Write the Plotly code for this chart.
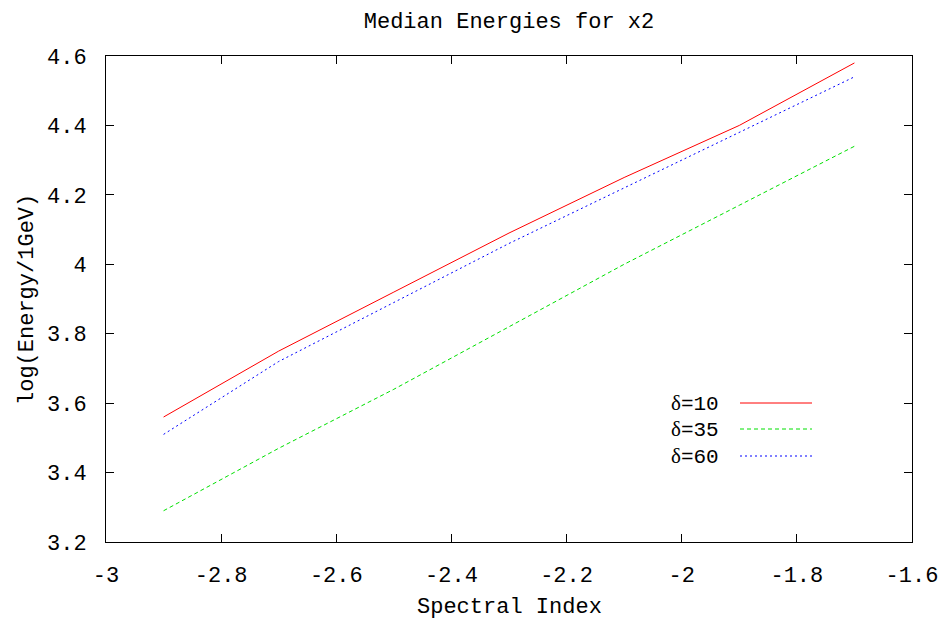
import plotly.graph_objects as go

spectral_index = [-2.9, -2.7, -2.5, -2.3, -2.1, -1.9, -1.7]
delta10 = [3.56, 3.75, 3.92, 4.09, 4.25, 4.40, 4.58]
delta35 = [3.29, 3.47, 3.64, 3.82, 4.00, 4.17, 4.34]
delta60 = [3.51, 3.72, 3.89, 4.06, 4.22, 4.38, 4.54]

series_names = ["δ=10", "δ=35", "δ=60"]
series_values = [delta10, delta35, delta60]
colors = ["#ff0000", "#00e000", "#0000ff"]
dashes = ["solid", "4px,3px", "2px,3px"]

x_ticks = [-3, -2.8, -2.6, -2.4, -2.2, -2, -1.8, -1.6]
y_ticks = [3.2, 3.4, 3.6, 3.8, 4, 4.2, 4.4, 4.6]

MONO = "Liberation Mono, Courier New, Courier, monospace"

fig = go.Figure()
for name, vals, c, d in zip(series_names, series_values, colors, dashes):
    fig.add_trace(go.Scatter(x=spectral_index, y=vals, mode="lines", name=name,
                             line=dict(color=c, width=1, dash=d), showlegend=False))

W, H = 948, 629
L, R, T, B = 106, 36, 56, 87
pw, ph = W - L - R, H - T - B

def px(xp):
    return (xp - L) / pw

def py(yp):
    return 1 - (yp - T) / ph

# legend (gnuplot-style: text then line sample)
rows_y = [403, 429, 456]
for name, c, d, yy in zip(series_names, colors, dashes, rows_y):
    label = name.replace("δ", "<span style='font-family:Liberation Serif, serif'>δ</span>")
    fig.add_annotation(x=px(721), y=py(yy), xref="paper", yref="paper", text=label,
                       showarrow=False, xanchor="right", yanchor="middle",
                       font=dict(family=MONO, size=21, color="black"))
    fig.add_shape(type="line", xref="paper", yref="paper",
                  x0=px(740), x1=px(812), y0=py(yy), y1=py(yy),
                  line=dict(color=c, width=1, dash=d))

# axis titles
fig.add_annotation(x=px(509), y=py(607), xref="paper", yref="paper", text="Spectral Index",
                   showarrow=False, xanchor="center", yanchor="middle",
                   font=dict(family=MONO, size=22, color="black"))
fig.add_annotation(x=px(27), y=py(300), xref="paper", yref="paper", text="log(Energy/1GeV)",
                   showarrow=False, xanchor="center", yanchor="middle", textangle=-90,
                   font=dict(family=MONO, size=22, color="black"))

axis_common = dict(showgrid=False, zeroline=False, showline=True, linecolor="black",
                   linewidth=1, mirror="ticks", ticks="inside", ticklen=8,
                   tickcolor="black", tickwidth=1, automargin=False,
                   tickfont=dict(family=MONO, size=22, color="black"))

fig.update_xaxes(range=[-3, -1.6], tickvals=x_ticks,
                 ticktext=[f"{v:g}" for v in x_ticks],
                 ticklabelstandoff=13, **axis_common)
fig.update_yaxes(range=[3.2, 4.6], tickvals=y_ticks,
                 ticktext=[f"{v:g}" for v in y_ticks],
                 ticklabelstandoff=14, **axis_common)

fig.update_layout(
    width=W, height=H,
    margin=dict(l=L, r=R, t=T, b=B),
    paper_bgcolor="white", plot_bgcolor="white",
    title=dict(text="Median Energies for x2", x=px(509), xref="paper", y=1 - 20 / H, yanchor="middle",
               xanchor="center", font=dict(family=MONO, size=22, color="black")),
)

fig.write_html("out.html")
